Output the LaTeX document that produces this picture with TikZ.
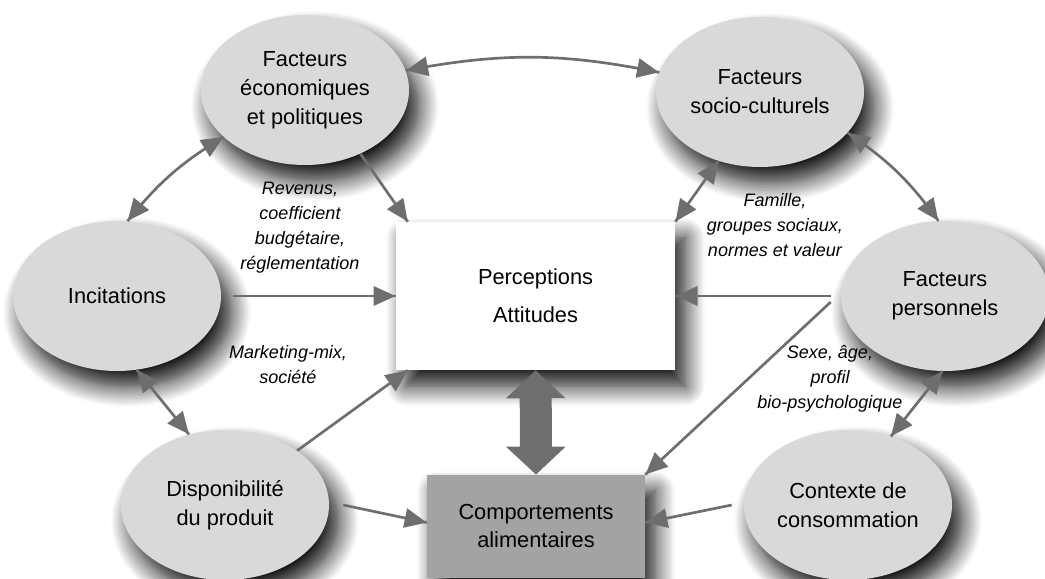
\documentclass[tikz,border=0pt]{standalone}
\usepackage{fontspec}
\setmainfont{Liberation Sans}
\usepackage{tikz}
\usetikzlibrary{arrows.meta}
\usetikzlibrary{decorations.markings}
\usetikzlibrary{shapes.geometric}
\usetikzlibrary{shadows.blur}
\tikzset{->/.style = {decoration={markings,
                                  mark=at position 0.999 with {\arrow{Triangle[length=0.55cm, width=0.48cm]}}},
                      postaction={decorate}}}
\tikzset{<->/.style = {decoration={markings,
                                   mark=at position 0.001 with {\arrowreversed{Triangle[length=0.55cm, width=0.48cm]}},
                                   mark=at position 0.999 with {\arrow{Triangle[length=0.55cm, width=0.48cm]}}},
                       postaction={decorate}}}
\tikzset{dark/.style = {blur shadow = {shadow xshift = 0.25cm, shadow yshift = -0.4cm,
                                       shadow blur radius = 0.5cm, shadow opacity = 95,
                                       shadow blur steps = 14}}}
\tikzset{factor/.style = {ellipse, fill = ellgray, dark, minimum width = 5.2cm,
                          minimum height = 3.75cm, inner sep = 0, align = center,
                          font = \fontsize{15.5}{20.5}\selectfont}}
\tikzset{note/.style = {align = center, font = \itshape\fontsize{12.8}{17.8}\selectfont}}
\tikzset{link/.style = {draw = arrowgray, line width = 1.9pt}}
\definecolor{ellgray}{gray}{0.85}
\definecolor{boxgray}{gray}{0.64}
\definecolor{arrowgray}{gray}{0.43}

\begin{document}
\begin{tikzpicture}
      \useasboundingbox (0, 0) rectangle (26.125, 14.45);

      \node [factor] (eco) at (7.625, 12.2) {Facteurs\\économiques\\et politiques};
      \node [factor] (socio) at (19.0, 12.15) {Facteurs\\socio-culturels};
      \node [factor] (incit) at (2.925, 7.05) {Incitations};
      \node [factor] (perso) at (23.625, 7.05) {Facteurs\\personnels};
      \node [factor] (dispo) at (5.625, 1.825) {Disponibilité\\du produit};
      \node [factor] (contexte) at (21.2, 1.825) {Contexte de\\consommation};

      \node [fill = white, dark, minimum width = 6.975cm, minimum height = 3.7cm,
             align = center, font = \fontsize{15.5}{27}\selectfont]
            (percep) at (13.39, 7.05) {Perceptions\\Attitudes};
      \node [fill = boxgray, dark, minimum width = 5.45cm, minimum height = 2.575cm,
             align = center, font = \fontsize{15.5}{20}\selectfont]
            (comport) at (13.4, 1.29) {Comportements\\alimentaires};

      \draw [<->, link] (eco.11) to [bend left = 11] (socio.169);
      \draw [<->, link] (eco.210) to [bend right = 10] (incit.82);
      \draw [<->, link] (socio.335) to [bend left = 10] (perso.95);
      \draw [<->, link] (socio.239) -- (percep.north east);
      \draw [<->, link] (incit.285) -- (dispo.117);
      \draw [<->, link] (perso.268) -- (contexte.58);

      \draw [->, link] (eco.311) -- ([xshift = 0.3cm]percep.north west);
      \draw [->, link] ([xshift = 0.3cm]incit.east) -- (percep.west);
      \draw [->, link] ([xshift = -0.25cm]perso.west) -- (percep.east);
      \draw [->, link] ([xshift = -0.25cm, yshift = -0.15cm]perso.west) -- (comport.north east);
      \draw [->, link] (dispo.37) -- ([xshift = 0.3cm]percep.south west);
      \draw [->, link] ([xshift = 0.35cm]dispo.east) -- (comport.178);
      \draw [->, link] ([xshift = -0.3cm]contexte.west) -- (comport.2);

      \draw [draw = arrowgray, line width = 0.8cm,
             arrows = {Triangle[length = 0.7cm, width = 1.45cm]-Triangle[length = 0.7cm, width = 1.45cm]}]
            (percep.south) -- (comport.north);

      \node [note] (revenus) at (7.5, 8.76) {Revenus,\\coefficient\\budgétaire,\\réglementation};
      \node [note] (marketing) at (7.2, 5.325) {Marketing-mix,\\société};
      \node [note] (famille) at (19.375, 8.825) {Famille,\\groupes sociaux,\\normes et valeur};
      \node [note] (sexe) at (20.75, 4.975) {Sexe, âge,\\profil\\bio-psychologique};
\end{tikzpicture}
\end{document}
